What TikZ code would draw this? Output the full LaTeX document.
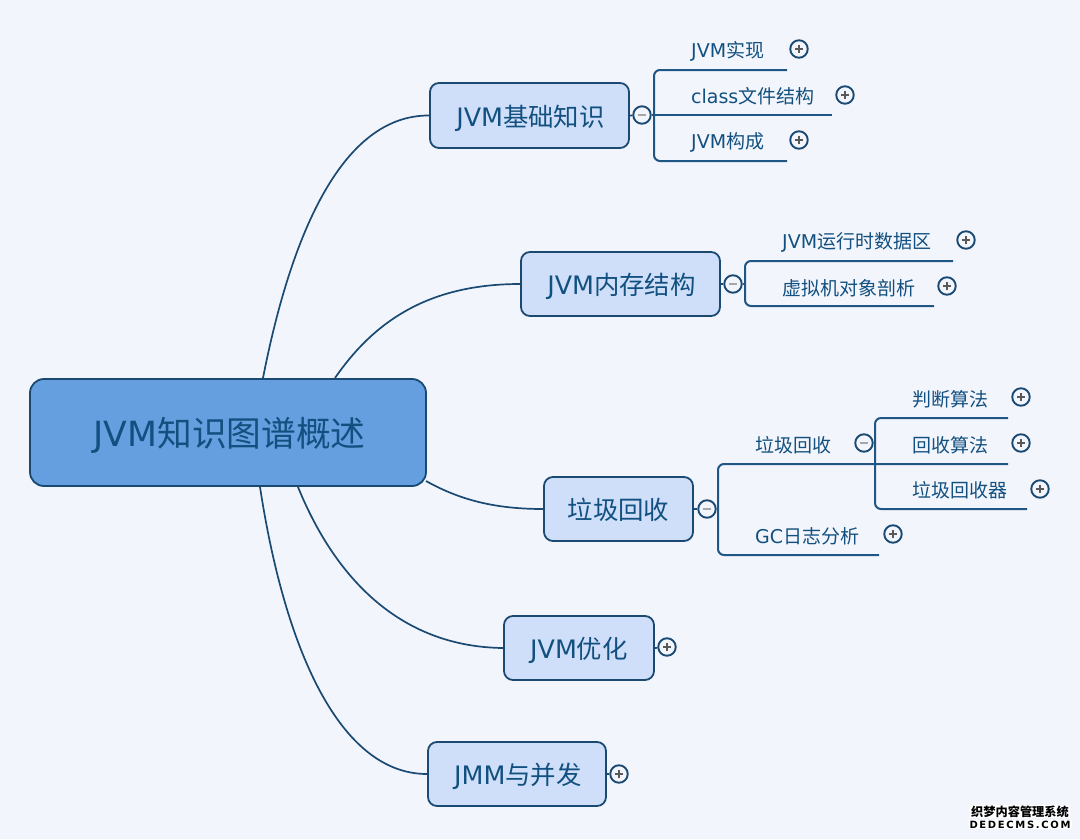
\documentclass[tikz,border=0pt]{standalone}
\usepackage{fontspec}
\setmainfont{DejaVu Sans}
\newfontfamily\cjk{Noto Sans CJK SC}
\definecolor{bgc}{HTML}{F3F5FD}
\definecolor{linec}{HTML}{1A4A72}
\definecolor{textc}{HTML}{12507F}
\definecolor{rootc}{HTML}{669FDF}
\definecolor{topicc}{HTML}{CFDFFA}
\definecolor{subc}{HTML}{1F5684}
\newcommand{\lowr}[2]{\raisebox{-#1pt}[0pt][0pt]{#2}}
\tikzset{
  x=1pt,y=-1pt,
  rootbox/.style={draw=linec,fill=rootc,line width=1.8pt,rounded corners=14pt,inner sep=0pt,text=textc,font=\fontsize{34.7}{35}\selectfont},
  topicbox/.style={draw=linec,fill=topicc,line width=1.8pt,rounded corners=9pt,inner sep=0pt,text=textc,font=\fontsize{25.4}{26}\selectfont},
  subtext/.style={anchor=west,inner sep=0pt,text=textc,font=\fontsize{19}{20}\selectfont},
  curve/.style={draw=linec,line width=1.7pt},
  bracket/.style={draw=subc,line width=2pt,rounded corners=6pt},
  bar/.style={draw=subc,line width=2pt},
  plusbtn/.style={circle,draw=linec,fill=bgc,line width=1.9pt,minimum size=17.5pt,inner sep=0pt,
    path picture={\draw[line width=1.4pt,draw=black!65] ([xshift=-4pt]path picture bounding box.center)--([xshift=4pt]path picture bounding box.center);
                  \draw[line width=1.4pt,draw=black!65] ([yshift=-4pt]path picture bounding box.center)--([yshift=4pt]path picture bounding box.center);}},
  minusbtn/.style={circle,draw=linec,fill=bgc,line width=1.9pt,minimum size=17.5pt,inner sep=0pt,
    path picture={\draw[line width=1.4pt,draw=black!35] ([xshift=-4pt]path picture bounding box.center)--([xshift=4pt]path picture bounding box.center);}},
}
\begin{document}
\begin{tikzpicture}
\path[use as bounding box,fill=bgc] (0,0) rectangle (1080,839);

% topics
\node[rootbox,minimum width=396pt,minimum height=107pt] (root) at (228,432.5) {\hspace*{3pt}\lowr{14.2}{JVM{\cjk 知识图谱概述}}};
\node[topicbox,minimum width=199pt,minimum height=65pt] (t1) at (529.5,115.5) {\hspace*{2pt}\lowr{10.6}{JVM{\cjk 基础知识}}};
\node[topicbox,minimum width=199pt,minimum height=64pt] (t2) at (620.5,284) {\hspace*{2pt}\lowr{10.6}{JVM{\cjk 内存结构}}};
\node[topicbox,minimum width=149pt,minimum height=64pt] (t3) at (618.5,509) {\lowr{10.6}{{\cjk 垃圾回收}}};
\node[topicbox,minimum width=150pt,minimum height=64pt] (t4) at (579,648) {\lowr{10.6}{JVM{\cjk 优化}}};
\node[topicbox,minimum width=178pt,minimum height=64pt] (t5) at (517,774) {\hspace*{2pt}\lowr{10.6}{JMM{\cjk 与并发}}};

% root connectors
\coordinate (r1) at (263,378);
\coordinate (r2) at (335,378);
\coordinate (r3) at (426,481);
\coordinate (r4) at (298,487);
\coordinate (r5) at (260,487);
\draw[curve] (r1) .. controls (290,240) and (340,115) .. (t1.west);
\draw[curve] (r2) .. controls (375,320) and (430,284) .. (t2.west);
\draw[curve] (r3) .. controls (460,500) and (495,509) .. (t3.west);
\draw[curve] (r4) .. controls (340,590) and (410,647) .. (t4.west);
\draw[curve] (r5) .. controls (285,650) and (340,774) .. (t5.west);

% expanders
\node[minusbtn] (m1) at (642,115) {};
\node[minusbtn] (m2) at (733,284) {};
\node[minusbtn] (m3) at (707,509) {};
\node[plusbtn] (p4) at (667,647) {};
\node[plusbtn] (p5) at (619,774) {};
\draw[curve] (t1.east) -- (m1);
\draw[curve] (t2.east) -- (m2);
\draw[curve] (t3.east) -- (m3);
\draw[curve] (t4.east) -- (p4);
\draw[curve] (t5.east) -- (p5);

% branch 1
\node[subtext] (a1) at (691,51) {JVM{\cjk 实现}};
\node[subtext] (a2) at (691,96) {class{\cjk 文件结构}};
\node[subtext] (a3) at (691,142) {JVM{\cjk 构成}};
\node[plusbtn] (pa1) at (799,49) {};
\node[plusbtn] (pa2) at (845,95) {};
\node[plusbtn] (pa3) at (799,140) {};
\coordinate (a1e) at (787,70);
\coordinate (a2e) at (832,115);
\coordinate (a3e) at (787,161);
\coordinate (a1c) at (654,70);
\coordinate (a3c) at (654,161);
\draw[bracket] (a1e) -- (a1c) -- (a3c) -- (a3e);
\draw[bar] (m1.east) -- (a2e);

% branch 2
\node[subtext] (b1) at (782,242.5) {JVM{\cjk 运行时数据区}};
\node[subtext] (b2) at (782,288) {{\cjk 虚拟机对象剖析}};
\node[plusbtn] (pb1) at (966,240) {};
\node[plusbtn] (pb2) at (947,286) {};
\coordinate (b1e) at (953,261);
\coordinate (b2e) at (934,306);
\coordinate (b1c) at (745,261);
\coordinate (b2c) at (745,306);
\draw[bracket] (b1e) -- (b1c) -- (b2c) -- (b2e);
\draw[bar] (m2.east) -- (745,284);

% branch 3
\node[subtext] (c1) at (755,445) {{\cjk 垃圾回收}};
\node[subtext] (c2) at (755,536) {GC{\cjk 日志分析}};
\node[minusbtn] (mc1) at (864,443) {};
\node[plusbtn] (pc2) at (893,534) {};
\coordinate (c1e) at (1008,464);
\coordinate (c2e) at (879,555);
\coordinate (c1c) at (718,464);
\coordinate (c2c) at (718,555);
\draw[bracket] (c1e) -- (c1c) -- (c2c) -- (c2e);
\draw[bar] (m3.east) -- (718,509);

\node[subtext] (d1) at (912,399.5) {{\cjk 判断算法}};
\node[subtext] (d2) at (912,445) {{\cjk 回收算法}};
\node[subtext] (d3) at (912,490.5) {{\cjk 垃圾回收器}};
\node[plusbtn] (pd1) at (1021,397) {};
\node[plusbtn] (pd2) at (1021,443) {};
\node[plusbtn] (pd3) at (1040,489) {};
\coordinate (d1e) at (1008,418);
\coordinate (d3e) at (1027,509);
\coordinate (d1c) at (875,418);
\coordinate (d3c) at (875,509);
\draw[bracket] (d1e) -- (d1c) -- (d3c) -- (d3e);
\draw[bar] (mc1.east) -- (875,443);

% watermark
\node[fill=white,inner sep=1pt,text=black,font=\fontsize{12.2}{13}\bfseries] (w1) at (1020,811.5) {{\cjk\bfseries 织梦内容管理系统}};
\node[fill=white,inner sep=1pt,text=black,font=\fontsize{10}{10}\bfseries] (w2) at (1020,824.5) {D\,E\,D\,E\,C\,M\,S\,.\,C\,O\,M};
\end{tikzpicture}
\end{document}
